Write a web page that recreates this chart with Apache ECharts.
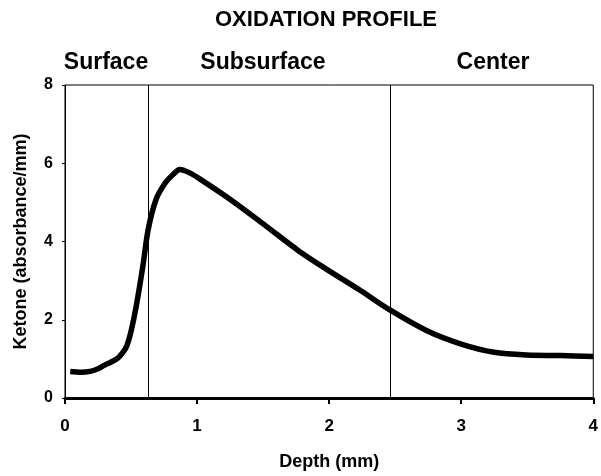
<!DOCTYPE html>
<html lang="en">
<head>
    <meta charset="UTF-8">
    <title>Oxidation profile</title>
    <style>
        html, body { margin: 0; padding: 0; background: #fff; }
        #chart { width: 601px; height: 476px; }
    </style>
</head>
<body>
<div id="chart"></div>
<script src="https://cdn.jsdelivr.net/npm/echarts@6/dist/echarts.min.js"></script>
<script>
    // values
    var depth = [0.04, 0.12, 0.19, 0.25, 0.30, 0.35, 0.40, 0.44, 0.47, 0.50, 0.54, 0.59, 0.63, 0.69, 0.76, 0.82, 0.87, 0.94, 1.02, 1.27, 1.52, 1.77, 2.0, 2.24, 2.46, 2.74, 3.0, 3.25, 3.5, 3.75, 4.0];
    var ketone = [0.68, 0.66, 0.68, 0.75, 0.84, 0.92, 1.02, 1.17, 1.35, 1.7, 2.36, 3.38, 4.31, 5.08, 5.5, 5.72, 5.84, 5.76, 5.6, 5.03, 4.40, 3.76, 3.25, 2.74, 2.25, 1.72, 1.38, 1.17, 1.10, 1.085, 1.06];
    var zoneBounds = [0.63, 2.46];
    var zoneNames = ['Surface', 'Subsurface', 'Center'];
    var zoneLabelX = [106, 263, 493];

    var font = '"Liberation Sans", Arial, sans-serif';
    var chart = echarts.init(document.getElementById('chart'));

    var titles = [{
        text: 'OXIDATION PROFILE',
        left: 326,
        top: 9,
        padding: 0,
        textAlign: 'center',
        textStyle: { fontFamily: font, fontSize: 22, fontWeight: 'bold', color: '#000' }
    }];
    zoneNames.forEach(function (n, i) {
        titles.push({
            text: n,
            left: zoneLabelX[i],
            top: 51,
            padding: 0,
            textAlign: 'center',
            textStyle: { fontFamily: font, fontSize: 23, fontWeight: 'bold', color: '#000' }
        });
    });

    var pts = depth.map(function (d, i) { return [d, ketone[i]]; });

    var option = {
        animation: false,
        title: titles,
        grid: {
            left: 65, right: 4, top: 85, bottom: 77,
            show: true, borderColor: '#000', borderWidth: 1
        },
        xAxis: {
            type: 'value', min: 0, max: 4, interval: 1,
            name: 'Depth (mm)', nameLocation: 'middle', nameGap: 55,
            nameTextStyle: { fontFamily: font, fontSize: 18, fontWeight: 'bold', color: '#000' },
            axisLine: { lineStyle: { color: '#000', width: 3 } },
            axisTick: { length: 6, lineStyle: { color: '#000', width: 2 } },
            axisLabel: { fontFamily: font, fontSize: 17, fontWeight: 'bold', color: '#000', margin: 20 },
            splitLine: { show: false }
        },
        yAxis: {
            type: 'value', min: 0, max: 8, interval: 2,
            name: 'Ketone (absorbance/mm)', nameLocation: 'middle', nameGap: 35,
            nameTextStyle: { fontFamily: font, fontSize: 18, fontWeight: 'bold', color: '#000' },
            axisLine: { show: true, lineStyle: { color: '#000', width: 1 } },
            axisTick: { show: true, length: 3, lineStyle: { color: '#000', width: 1 } },
            axisLabel: { fontFamily: font, fontSize: 16, fontWeight: 'bold', color: '#000', margin: 12 },
            splitLine: { show: false }
        },
        series: [{
            type: 'line',
            data: pts,
            smooth: 0.3,
            showSymbol: false,
            lineStyle: { color: '#000', width: 5.5 },
            markLine: {
                silent: true,
                symbol: 'none',
                label: { show: false },
                lineStyle: { color: '#000', width: 1, type: 'solid' },
                data: zoneBounds.map(function (b) { return { xAxis: b }; })
            }
        }]
    };
    chart.setOption(option);
</script>
</body>
</html>
